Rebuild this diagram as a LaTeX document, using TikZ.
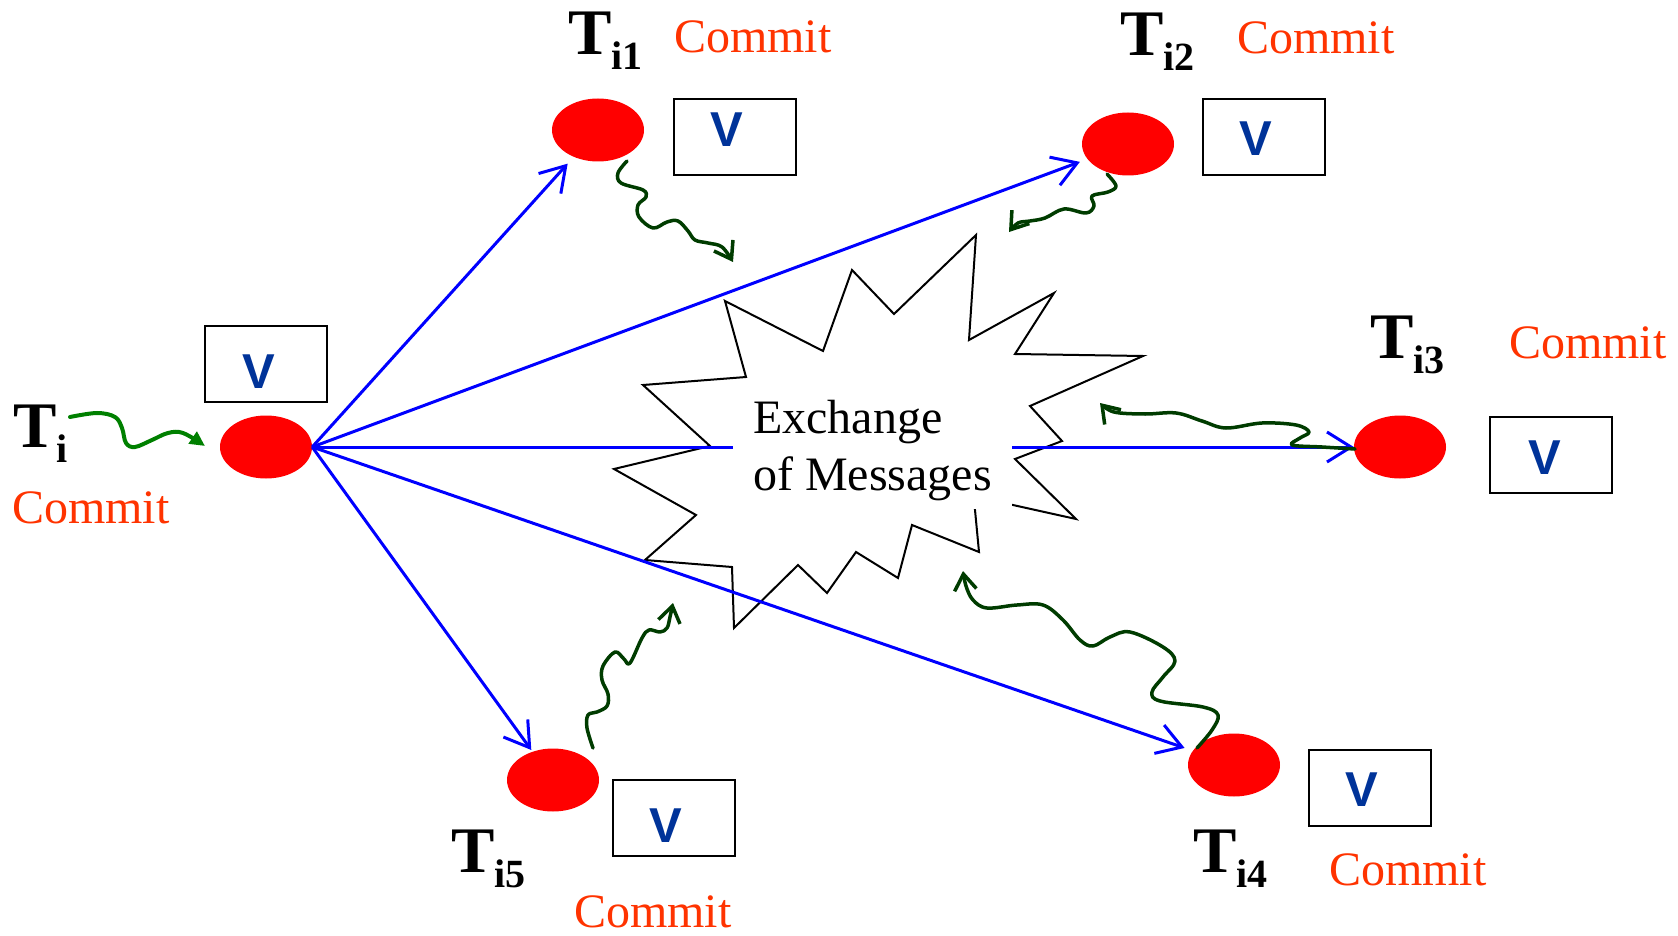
\documentclass[tikz,border=0pt]{standalone}
\usepackage{fontspec}
\setmainfont{Liberation Serif}
\newfontfamily\vfont{Liberation Sans}
\usetikzlibrary{arrows.meta,shapes.geometric}

\definecolor{sendblue}{RGB}{0,0,255}
\definecolor{txred}{RGB}{255,0,0}
\definecolor{commitred}{RGB}{255,51,0}
\definecolor{vblue}{RGB}{0,51,153}
\definecolor{wgreen}{RGB}{0,60,0}
\definecolor{startgreen}{RGB}{0,128,0}

% transaction name with a bold subscript
\newcommand\Tsub[1]{T\raisebox{-15pt}{\fontsize{40}{40}\selectfont #1}}

\begin{document}
\begin{tikzpicture}[x=1pt,y=-1pt,
  txnode/.style={ellipse, fill=txred, minimum width=92pt, minimum height=63pt, inner sep=0},
  vbox/.style={draw=black, line width=2pt, minimum width=122pt, minimum height=76pt, inner sep=0},
  vmark/.style={font=\vfont\bfseries\fontsize{49}{49}\selectfont, text=vblue, inner sep=0},
  commit/.style={font=\fontsize{48}{48}\selectfont, text=commitred, anchor=base west, inner sep=0},
  tlabel/.style={font=\bfseries\fontsize{65}{65}\selectfont, anchor=base west, inner sep=0},
  send/.style={draw=sendblue, line width=3pt, -{Straight Barb[length=24pt,width=30pt]}},
  wiggle/.style={draw=wgreen, line width=3.5pt, line cap=round, line join=round,
                 -{Straight Barb[length=16pt,width=22pt]}},
  startwiggle/.style={draw=startgreen, line width=4pt, line cap=round,
                 -{Triangle[length=15pt,width=14pt]}},
]
\useasboundingbox (0,0) rectangle (1678,936);

% the burst behind the central caption
\draw[line width=2pt, line join=miter]
  (725,301) -- (823,351) -- (852,270) -- (894,314) -- (976,235) -- (969,340)
  -- (1054,293) -- (1015,354) -- (1143,356) -- (1030,406) -- (1062,441)
  -- (1015,459) -- (1076,519) -- (973.7,496.3) -- (979,552) -- (912,525)
  -- (898,578) -- (856,552) -- (827,593) -- (798,565) -- (734,628)
  -- (732,567) -- (645,560) -- (696,515) -- (614,469) -- (710,446)
  -- (643,385) -- (746,377) -- cycle;

% transactions
\node[txnode] (t0) at (266,447) {};
\node[txnode] (t1) at (598,130) {};
\node[txnode] (t2) at (1128,144) {};
\node[txnode] (t3) at (1400,447) {};
\node[txnode] (t4) at (1234,765) {};
\node[txnode] (t5) at (553,780) {};

% messages sent by T_i
\draw[send, shorten >=9pt] (t0.east) -- (t1);
\draw[send, shorten >=8pt] (t0.east) -- (t2);
\draw[send] (t0.east) -- (t3);
\draw[send, shorten >=8.6pt] (t0.east) -- (t4);
\draw[send, shorten >=2pt] (t0.east) -- (t5);

% caption of the burst
\node[fill=white, minimum width=279pt, minimum height=127pt, inner sep=0] (msgmask) at (872.5,445.5) {};
\node[align=left, inner sep=0, font=\fontsize{48}{57}\selectfont] (msg) at (872.5,451) {Exchange\\of Messages};

% value boxes
\node[vbox] (b0) at (266,364) {};
\node[vbox] (b1) at (734.5,137) {};
\node[vbox] (b2) at (1263.5,137) {};
\node[vbox] (b3) at (1551,455) {};
\node[vbox] (b4) at (1370,787.5) {};
\node[vbox] (b5) at (674,817.5) {};
\node[vmark] (v0) at (259,372) {V};
\node[vmark] (v1) at (727,130) {V};
\node[vmark] (v2) at (1256,139) {V};
\node[vmark] (v3) at (1544.5,457.5) {V};
\node[vmark] (v4) at (1362,790) {V};
\node[vmark] (v5) at (666,826) {V};

% names
\node[tlabel] (n0) at (13,447) {\Tsub{i}};
\node[tlabel] (n1) at (568,55) {\Tsub{i1}};
\node[tlabel] (n2) at (1120,56) {\Tsub{i2}};
\node[tlabel] (n3) at (1370,358) {\Tsub{i3}};
\node[tlabel] (n4) at (1193,872) {\Tsub{i4}};
\node[tlabel] (n5) at (451,872) {\Tsub{i5}};

% commit labels
\node[commit] (c0) at (12,523) {Commit};
\node[commit] (c1) at (674,53) {Commit};
\node[commit] (c2) at (1237,54) {Commit};
\node[commit] (c3) at (1509,358) {Commit};
\node[commit] (c4) at (1329,885) {Commit};
\node[commit] (c5) at (574,927) {Commit};

% incoming start of T_i
\coordinate (s0) at (205,446);
\draw[startwiggle] plot[smooth, tension=0.6] coordinates
  {(70,417) (97,413) (115,417) (122,428) (126,443) (135,447) (152,440) (168,433) (183,433) (s0)};

% replies from the participants
\coordinate (w1) at (733,262);
\draw[wiggle] plot[smooth, tension=0.6] coordinates
  {(627,161) (618,173) (621,183) (643,190) (646,197) (638,205) (639,217) (653,228) (667,222)
   (678,221) (688,231) (695,240) (708,243) (722,247) (w1)};
\coordinate (w2) at (1009,232);
\draw[wiggle] plot[smooth, tension=0.6] coordinates
  {(1107,174) (1116,186) (1108,192) (1092,196) (1094,206) (1086,213) (1064,209) (1045,218)
   (1030,221) (1018,223) (w2)};
\coordinate (w3) at (1100,403);
\draw[wiggle] plot[smooth, tension=0.6] coordinates
  {(1355,449) (1322,447) (1292,445) (1300,438) (1309,432) (1296,425) (1262,423) (1226,428)
   (1202,421) (1176,413) (1145,414) (1114,412) (w3)};
\coordinate (w4) at (963,571);
\draw[wiggle] plot[smooth, tension=0.6] coordinates
  {(1197,748) (1212,730) (1218,715) (1203,707) (1160,701) (1152,692) (1163,677) (1175,661)
   (1163,647) (1130,632) (1110,637) (1093,646) (1080,640) (1063,620) (1043,605) (1017,605)
   (987,608) (973,600) (966,586) (w4)};
\coordinate (w5) at (673,603);
\draw[wiggle] plot[smooth, tension=0.6] coordinates
  {(593,748) (587,728) (588,715) (597,712) (607,706) (608,694) (602,680) (603,666) (615,652)
   (624,659) (630,663) (642,638) (649,630) (660,632) (667,628) (670,617) (w5)};
\end{tikzpicture}
\end{document}
